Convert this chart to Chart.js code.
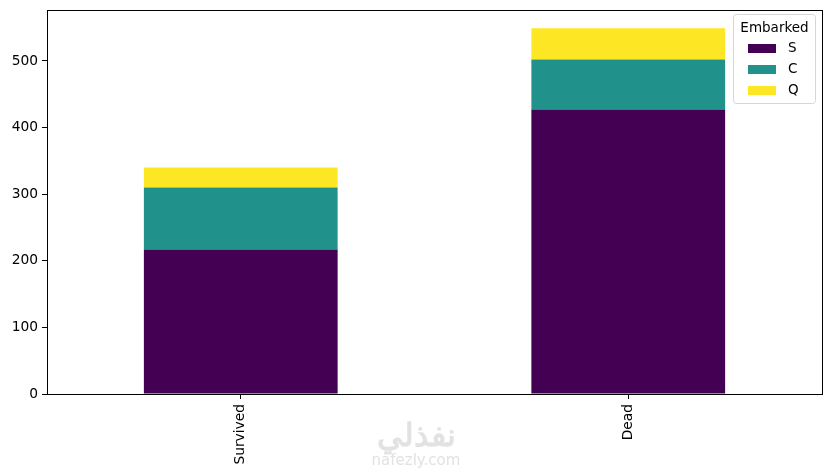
<!DOCTYPE html>
<html>
<head>
<meta charset="utf-8">
<script src="https://cdn.jsdelivr.net/npm/chart.js@4.4.0/dist/chart.umd.min.js"></script>
<style>
  html, body { margin: 0; padding: 0; background: #fff; }
  #wrap { position: relative; width: 831px; height: 475px; }
  #wm { position: absolute; left: 356px; top: 416px; width: 120px; text-align: center;
        font-family: "DejaVu Sans", sans-serif; color: #e2e2e2; font-size: 15px; line-height: 16px; }
  #wm .ar { font-family: "Noto Sans", sans-serif; font-size: 32px; font-weight: bold; line-height: 36px; }
</style>
</head>
<body>
<div id="wrap">
  <canvas id="barChart" width="831" height="475"></canvas>
  <div id="wm"><div class="ar">نفذلي</div>nafezly.com</div>
</div>
<script>
var categories = ["Survived", "Dead"];
var valuesS = [217, 427];
var valuesC = [93, 75];
var valuesQ = [30, 47];
var seriesNames = ["S", "C", "Q"];
var seriesColors = ["#440154", "#21918c", "#fde725"];
var yTicks = [0, 100, 200, 300, 400, 500];
var fontFam = "'DejaVu Sans', sans-serif";

var frameBox = {
  id: 'frameBox',
  afterDraw: function(chart) {
    var a = chart.chartArea, c = chart.ctx;
    c.save();
    c.strokeStyle = '#000';
    c.lineWidth = 1;
    c.strokeRect(Math.round(a.left) + 0.5, Math.round(a.top) + 0.5,
      Math.round(a.right - a.left), Math.round(a.bottom - a.top));

    // legend inside the top right corner
    var bx = 733.5, by = 14.5, bw = 82, bh = 89;
    c.fillStyle = 'rgba(255,255,255,0.8)';
    c.strokeStyle = '#d6d6d6';
    c.beginPath();
    c.roundRect(bx, by, bw, bh, 3);
    c.fill();
    c.stroke();
    c.fillStyle = '#000';
    c.font = '13.5px ' + fontFam;
    c.textAlign = 'center';
    c.textBaseline = 'middle';
    c.fillText('Embarked', bx + bw / 2, by + 14);
    c.textAlign = 'left';
    chart.data.datasets.forEach(function(ds, i) {
      var y = by + 34 + i * 21;
      c.fillStyle = ds.backgroundColor;
      c.fillRect(748, y - 4.5, 28, 9);
      c.fillStyle = '#000';
      c.fillText(ds.label, 788, y);
    });
    c.restore();
  }
};

var barData = {
  labels: categories,
  datasets: [
    { label: seriesNames[0], backgroundColor: seriesColors[0], data: valuesS },
    { label: seriesNames[1], backgroundColor: seriesColors[1], data: valuesC },
    { label: seriesNames[2], backgroundColor: seriesColors[2], data: valuesQ }
  ]
};

var barOptions = {
  responsive: false,
  animation: false,
  layout: { padding: { left: 0, right: 9, top: 10, bottom: 0 } },
  datasets: { bar: { barPercentage: 0.5, categoryPercentage: 1, borderWidth: 0 } },
  plugins: { legend: { display: false }, tooltip: { enabled: false } },
  scales: {
    x: {
      stacked: true,
      grid: { display: true, offset: false, drawOnChartArea: false, drawTicks: true, tickLength: 5, color: '#000' },
      border: { display: false },
      ticks: { color: '#000', font: { family: fontFam, size: 13.8 }, minRotation: 90, maxRotation: 90, padding: 5 },
      afterFit: function(s) { s.height = 81; s.paddingLeft = 0; s.paddingRight = 0; }
    },
    y: {
      stacked: true,
      min: 0,
      max: 576.45,
      grid: { display: true, drawOnChartArea: false, drawTicks: true, tickLength: 5, color: '#000' },
      border: { display: false },
      ticks: { color: '#000', font: { family: fontFam, size: 13.8 }, stepSize: 100, padding: 4 },
      afterBuildTicks: function(s) {
        s.ticks = yTicks.map(function(v) { return { value: v }; });
      },
      afterFit: function(s) { s.width = 47; s.paddingTop = 0; s.paddingBottom = 0; }
    }
  }
};

var ctx2 = document.getElementById("barChart").getContext("2d");
new Chart(ctx2, { type: 'bar', data: barData, options: barOptions, plugins: [frameBox] });
</script>
</body>
</html>
